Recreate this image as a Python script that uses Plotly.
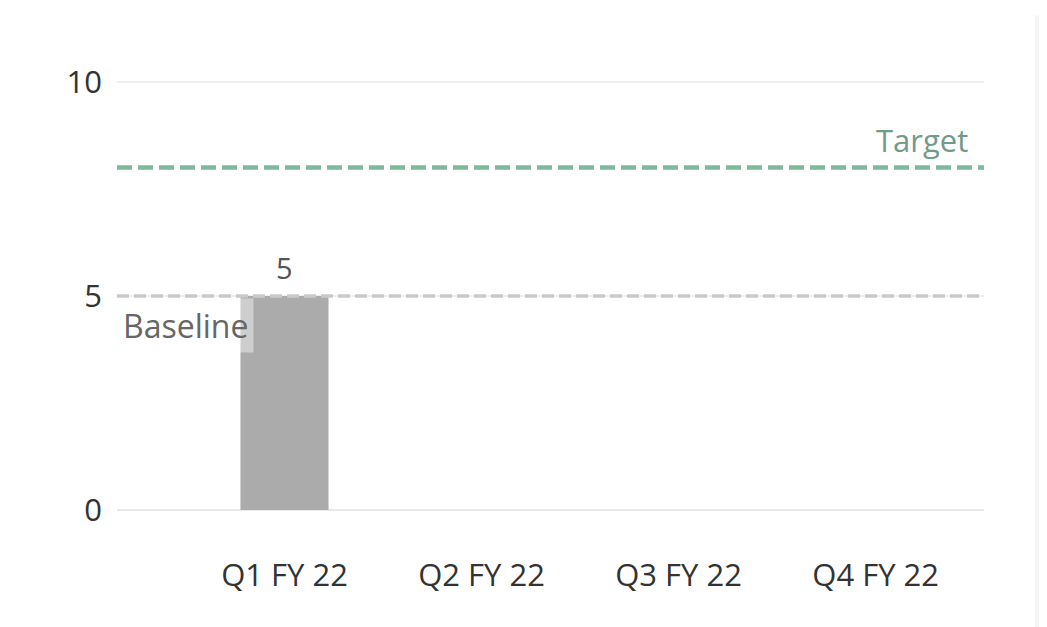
import plotly.graph_objects as go

categories = ["Q1 FY 22", "Q2 FY 22", "Q3 FY 22", "Q4 FY 22"]
values = [5, None, None, None]
bar_labels = ["5", "", "", ""]
baseline_value = 5
target_value = 8
y_ticks = [0, 5, 10]

FONT = "Open Sans"

fig = go.Figure()
fig.add_trace(go.Bar(
    x=categories, y=values, width=0.447,
    marker=dict(color="#ababab", line=dict(width=0)),
    hoverinfo="skip",
))

# bar value labels
for cat, val, lab in zip(categories, values, bar_labels):
    if val is not None and lab:
        fig.add_annotation(x=cat, y=val, xref="x", yref="y", text=lab, showarrow=False,
                           yanchor="bottom", yshift=7,
                           font=dict(family=FONT, size=29, color="#555555"))

fig.add_hline(y=target_value, line=dict(color="#80b89c", width=4.5, dash="15px,6px"), layer="above")
fig.add_hline(y=baseline_value, line=dict(color="#c9c9c9", width=3.5, dash="12px,5px"), layer="above")

fig.add_annotation(x=1, xref="paper", y=target_value, yref="y", text="Target",
                   showarrow=False, xanchor="right", yanchor="bottom", yshift=4, xshift=-14,
                   font=dict(family=FONT, size=31, color="#6f9c88"))
fig.add_annotation(x=0, xref="paper", y=baseline_value, yref="y", text="Baseline",
                   showarrow=False, xanchor="left", yanchor="top", yshift=-2, xshift=0,
                   bgcolor="rgba(255,255,255,0.42)", borderpad=5,
                   font=dict(family=FONT, size=32, color="#666666"))

# right-side panel strip
fig.add_shape(type="rect", xref="paper", yref="paper", x0=1.0588, x1=1.3, y0=-0.4, y1=1.05,
              fillcolor="#f4f4f4", line=dict(width=0), layer="above")

fig.update_layout(
    width=1039, height=619,
    margin=dict(l=109, r=63, t=31, b=117),
    paper_bgcolor="white", plot_bgcolor="white",
    showlegend=False,
    font=dict(family=FONT, color="#333333"),
)
fig.update_xaxes(
    categoryorder="array", categoryarray=categories,
    range=[-0.85, 3.55], showgrid=False, zeroline=False, showline=False,
    ticks="", tickfont=dict(family=FONT, size=31, color="#333333"),
    ticklabelstandoff=44,
)
fig.update_yaxes(
    range=[0, 11], tickvals=y_ticks, ticktext=[str(v) for v in y_ticks],
    showgrid=True, gridcolor="#efefef", gridwidth=1.5,
    zeroline=True, zerolinecolor="#e8e8e8", zerolinewidth=2,
    showline=False, ticks="", ticklabelstandoff=14,
    tickfont=dict(family=FONT, size=31, color="#333333"),
)

fig.write_html("out.html")
